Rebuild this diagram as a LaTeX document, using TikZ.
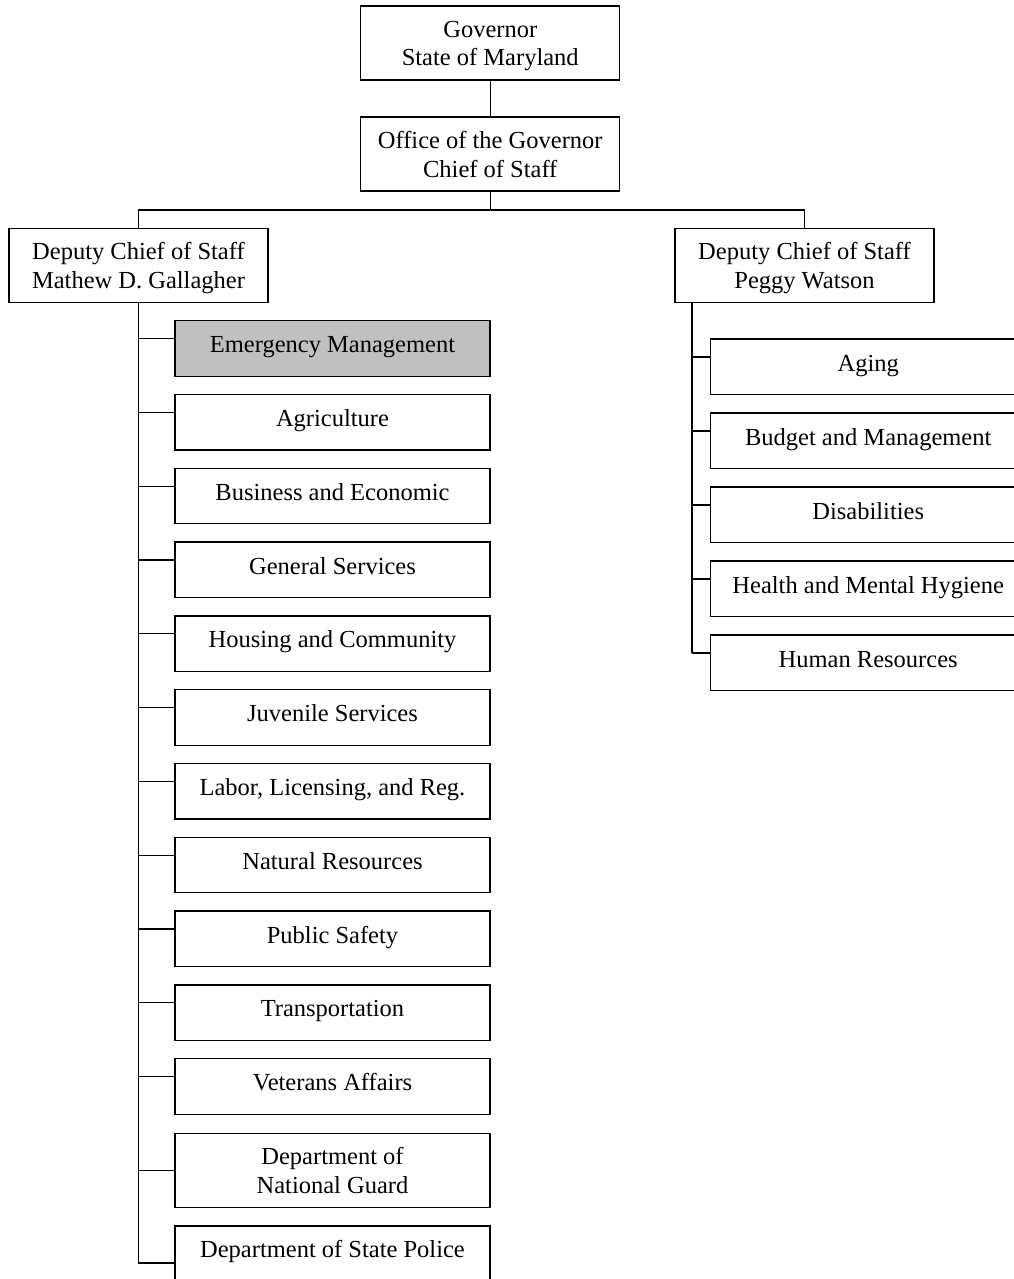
\documentclass[tikz,border=0pt]{standalone}
\usepackage{fontspec}
\setmainfont{Liberation Serif}
\usetikzlibrary{calc}
\definecolor{hilite}{RGB}{192,192,192}
\begin{document}
\begin{tikzpicture}[x=1pt,y=-1pt,
  every node/.style={font=\fontsize{24.5}{28.5}\selectfont},
  conn/.style={line width=1.3pt},
  sbox/.style={draw, line width=1.3pt, rectangle, inner sep=0pt, text height=17pt, text depth=8.5pt, minimum width=315pt, minimum height=55.5pt},
  tbox/.style={draw, line width=1.3pt, rectangle, inner sep=0pt, align=center, text height=54.5pt, text depth=8.5pt, minimum height=74pt},
  topbox/.style={tbox, minimum width=259pt},
  wbox/.style={tbox, minimum width=315pt},
  obox/.style={draw, line width=1.3pt, rectangle, inner sep=0pt, text height=17pt, text depth=28pt, minimum height=74pt, minimum width=315pt}]
\clip (0,0) rectangle (1014,1279);
\fill[white] (0,0) rectangle (1014,1279);
% top
\node[topbox] (gov) at (490.25,43) {Governor\\State of Maryland};
\node[topbox] (off) at (490.25,154) {Office of the Governor\\Chief of Staff};
\node[topbox] (dl) at (138.5,265.4) {Deputy Chief of Staff\\Mathew D. Gallagher};
\node[topbox] (dr) at (804.5,265.4) {Deputy Chief of Staff\\Peggy Watson};
\coordinate (bus) at (490.25,210);
\draw[conn] (gov.south) -- (off.north);
\draw[conn] (off.south) -- (bus);
\draw[conn] (dl.north) |- (bus) -| (dr.north);
% left column
\node[sbox, fill=hilite] (em) at (332.5,348.45) {Emergency Management};
\node[sbox] (ag) at (332.5,422.25) {Agriculture};
\node[sbox] (bu) at (332.5,496.05) {Business and Economic};
\node[sbox] (gs) at (332.5,569.85) {General Services};
\node[sbox] (ho) at (332.5,643.65) {Housing and Community};
\node[sbox] (ju) at (332.5,717.45) {Juvenile Services};
\node[sbox] (la) at (332.5,791.25) {Labor, Licensing, and Reg.};
\node[sbox] (na) at (332.5,865.05) {Natural Resources};
\node[sbox] (ps) at (332.5,938.85) {Public Safety};
\node[sbox] (tr) at (332.5,1012.65) {Transportation};
\node[sbox] (va) at (332.5,1086.45) {Veterans Affairs};
\node[wbox] (ng) at (332.5,1170.3) {Department of\\National Guard};
\node[obox] (sp) at (332.5,1263) {Department of State Police};
\foreach \b in {em,ag,bu,gs,ho,ju,la,na,ps,tr,va}{
  \path (\b.north west) ++(0,18.5) coordinate (t\b);
  \draw[conn] (t\b) -- (t\b -| dl.south);
}
\draw[conn] (ng.west) -- (ng.west -| dl.south);
\draw[conn] (dl.south) |- (sp.west);
% right column
\node[sbox] (ai) at (868.2,366.75) {Aging};
\node[sbox] (bm) at (868.2,440.75) {Budget and Management};
\node[sbox] (di) at (868.2,514.75) {Disabilities};
\node[sbox] (hm) at (868.2,588.75) {Health and Mental Hygiene};
\node[sbox] (hr) at (868.2,662.75) {Human Resources};
\coordinate (sr) at ($(dr.south west)+(17.5,0)$);
\foreach \b in {ai,bm,di,hm,hr}{
  \path (\b.north west) ++(0,18.5) coordinate (t\b);
  \draw[conn] (t\b) -- (t\b -| sr);
}
\draw[conn] (sr) -- (sr |- thr);
\end{tikzpicture}
\end{document}
